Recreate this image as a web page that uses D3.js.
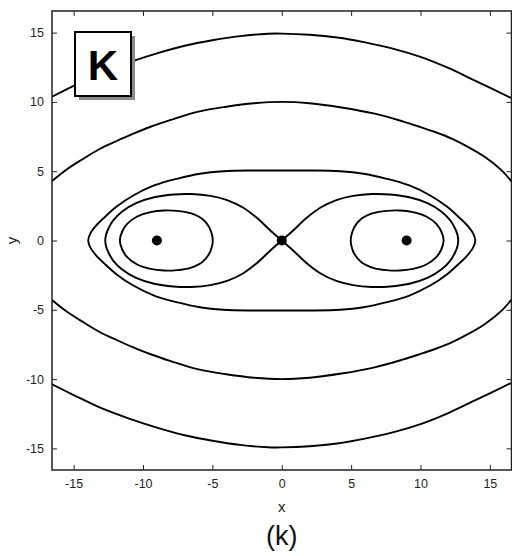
<!DOCTYPE html>
<html>
<head>
<meta charset="utf-8">
<script src="https://cdn.jsdelivr.net/npm/d3@7"></script>
<style>
  html, body { margin: 0; padding: 0; background: #fff; }
  svg { display: block; font-family: "Liberation Sans", Arial, Helvetica, sans-serif; }
</style>
</head>
<body>
<svg id="chart" width="512" height="556"></svg>
<script>
// Phase portrait of a double-well oscillator: level curves of the energy.
const xTicks = [-15, -10, -5, 0, 5, 10, 15];
const yTicks = [-15, -10, -5, 0, 5, 10, 15];

// equilibria: two centres and the saddle
const fixedPoints = [[-9, 0], [0, 0], [9, 0]];

// unbounded orbits, upper branch (lower branch is the mirror image in y)
const orbitOuterA = [[-16.6, 10.35], [-15, 11.15], [-13, 12.1], [-11, 12.85], [-9, 13.5], [-7, 14.05],
  [-5, 14.45], [-3, 14.75], [-1, 14.92], [0, 14.93], [2, 14.85], [4, 14.65], [6, 14.3], [8, 13.85],
  [10, 13.25], [12, 12.45], [14, 11.5], [16.6, 10.25]];
const orbitOuterB = [[-16.6, 4.26], [-15.5, 5.13], [-14.3, 5.9], [-13.1, 6.62], [-11.9, 7.18],
  [-10.7, 7.71], [-9.5, 8.19], [-8, 8.7], [-6, 9.3], [-4, 9.65], [-2, 9.9], [0, 10.0], [2, 9.9],
  [4.3, 9.6], [6.7, 9.15], [8.7, 8.6], [9.9, 8.22], [11.05, 7.83], [12.25, 7.35], [13.45, 6.74],
  [14.65, 6.02], [15.85, 5.06], [16.6, 4.21]];

// bounded orbit enclosing both wells, upper half
const orbitEnclosing = [[-13.95, 0], [-13.8, 0.5], [-13.4, 1.05], [-12.8, 1.65], [-11.9, 2.45],
  [-10.7, 3.25], [-9.2, 3.97], [-7.5, 4.47], [-5.9, 4.82], [-4.2, 5.0], [-2, 5.05], [0, 5.05],
  [2, 5.05], [4.2, 5.0], [5.9, 4.82], [7.5, 4.47], [9.2, 3.97], [10.7, 3.25], [11.9, 2.45],
  [12.8, 1.65], [13.4, 1.05], [13.8, 0.5], [13.95, 0]];

// separatrix, right lobe, upper half (starts at the saddle)
const separatrixLobe = [[0, 0], [0.82, 0.72], [1.78, 1.62], [2.8, 2.38], [3.94, 2.92], [5.14, 3.22],
  [6.5, 3.35], [7.8, 3.32], [9.2, 3.12], [10.5, 2.7], [11.5, 2.1], [12.15, 1.45], [12.5, 0.85],
  [12.67, 0.4], [12.72, 0]];

// small orbit around the right centre, upper half
const orbitInner = [[4.97, 0], [5.05, 0.5], [5.25, 1.0], [5.74, 1.57], [6.58, 1.97], [7.54, 2.14],
  [8.5, 2.17], [9.46, 2.05], [10.42, 1.73], [11.14, 1.2], [11.5, 0.65], [11.67, 0]];

const svg = d3.select("#chart");
const L = 52, R = 511.5, T = 11, B = 470;
const x = d3.scaleLinear().domain([-16.56, 16.56]).range([L, R]);
const y = d3.scaleLinear().domain([-16.56, 16.56]).range([B, T]);

svg.append("defs").append("clipPath").attr("id", "plotClip")
  .append("rect").attr("x", L).attr("y", T).attr("width", R - L).attr("height", B - T);

const flipY = pts => pts.map(([a, b]) => [a, -b]);
const flipX = pts => pts.map(([a, b]) => [-a, b]);

// upper half + mirrored lower half, as a closed ring
function ring(upper) {
  const lower = flipY(upper).slice(1, -1).reverse();
  return upper.concat(lower);
}
// lobe starting and ending at the saddle
function lobe(upper) {
  return upper.concat(flipY(upper).slice(0, -1).reverse());
}

const openLine = d3.line().x(d => x(d[0])).y(d => y(d[1])).curve(d3.curveCatmullRom.alpha(0.5));
const closedLine = d3.line().x(d => x(d[0])).y(d => y(d[1])).curve(d3.curveCatmullRomClosed.alpha(0.5));

const plot = svg.append("g").attr("clip-path", "url(#plotClip)");
const strokeStyle = sel => sel.attr("fill", "none").attr("stroke", "#000").attr("stroke-width", 1.9)
  .attr("stroke-linejoin", "round");

[orbitOuterA, orbitOuterB].forEach(c => {
  plot.append("path").attr("d", openLine(c)).call(strokeStyle);
  plot.append("path").attr("d", openLine(flipY(c))).call(strokeStyle);
});
plot.append("path").attr("d", closedLine(ring(orbitEnclosing))).call(strokeStyle);
plot.append("path").attr("d", openLine(lobe(separatrixLobe))).call(strokeStyle);
plot.append("path").attr("d", openLine(lobe(flipX(separatrixLobe)))).call(strokeStyle);
plot.append("path").attr("d", closedLine(ring(orbitInner))).call(strokeStyle);
plot.append("path").attr("d", closedLine(ring(flipX(orbitInner).reverse()))).call(strokeStyle);

plot.selectAll("circle.fp").data(fixedPoints).join("circle")
  .attr("class", "fp").attr("cx", d => x(d[0])).attr("cy", d => y(d[1])).attr("r", 5).attr("fill", "#000");

// axes: ticks on all four sides, pointing inward
const fmt = d => String(d);
const tickLen = 5;
const axStyle = g => {
  g.select(".domain").remove();
  g.selectAll(".tick line").attr("stroke", "#222").attr("stroke-width", 1);
  g.selectAll(".tick text").attr("fill", "#222").style("font-size", "12.5px")
    .style("font-family", "'Liberation Sans', Arial, sans-serif");
};
svg.append("g").attr("transform", `translate(0,${B})`)
  .call(d3.axisBottom(x).tickValues(xTicks).tickFormat(fmt).tickSizeInner(-tickLen).tickPadding(9))
  .call(axStyle);
svg.append("g").attr("transform", `translate(0,${T})`)
  .call(d3.axisTop(x).tickValues(xTicks).tickFormat("").tickSizeInner(-tickLen)).call(axStyle);
svg.append("g").attr("transform", `translate(${L},0)`)
  .call(d3.axisLeft(y).tickValues(yTicks).tickFormat(fmt).tickSizeInner(-tickLen).tickPadding(8))
  .call(axStyle);
svg.append("g").attr("transform", `translate(${R},0)`)
  .call(d3.axisRight(y).tickValues(yTicks).tickFormat("").tickSizeInner(-tickLen)).call(axStyle);

svg.append("rect").attr("x", L).attr("y", T).attr("width", R - L).attr("height", B - T)
  .attr("fill", "none").attr("stroke", "#222").attr("stroke-width", 1.5);

// axis titles and panel caption
svg.append("text").attr("x", x(0)).attr("y", 512).attr("text-anchor", "middle")
  .style("font-size", "15px").attr("fill", "#222").text("x");
svg.append("text").attr("transform", `translate(17,${y(0)}) rotate(-90)`).attr("text-anchor", "middle")
  .style("font-size", "15px").attr("fill", "#222").text("y");
svg.append("text").attr("x", x(0)).attr("y", 545).attr("text-anchor", "middle")
  .style("font-size", "27px").attr("fill", "#111").text("(k)");

// panel badge with drop shadow
const badge = svg.append("g").attr("transform", "translate(75,32)");
badge.append("rect").attr("x", 4).attr("y", 4).attr("width", 56).attr("height", 64).attr("fill", "#8a8a8a");
badge.append("rect").attr("x", 0).attr("y", 0).attr("width", 56).attr("height", 64)
  .attr("fill", "#fff").attr("stroke", "#000").attr("stroke-width", 2);
badge.append("text").attr("x", 28).attr("y", 48).attr("text-anchor", "middle")
  .style("font-size", "42px").style("font-weight", "bold").attr("fill", "#000").text("K");
</script>
</body>
</html>
